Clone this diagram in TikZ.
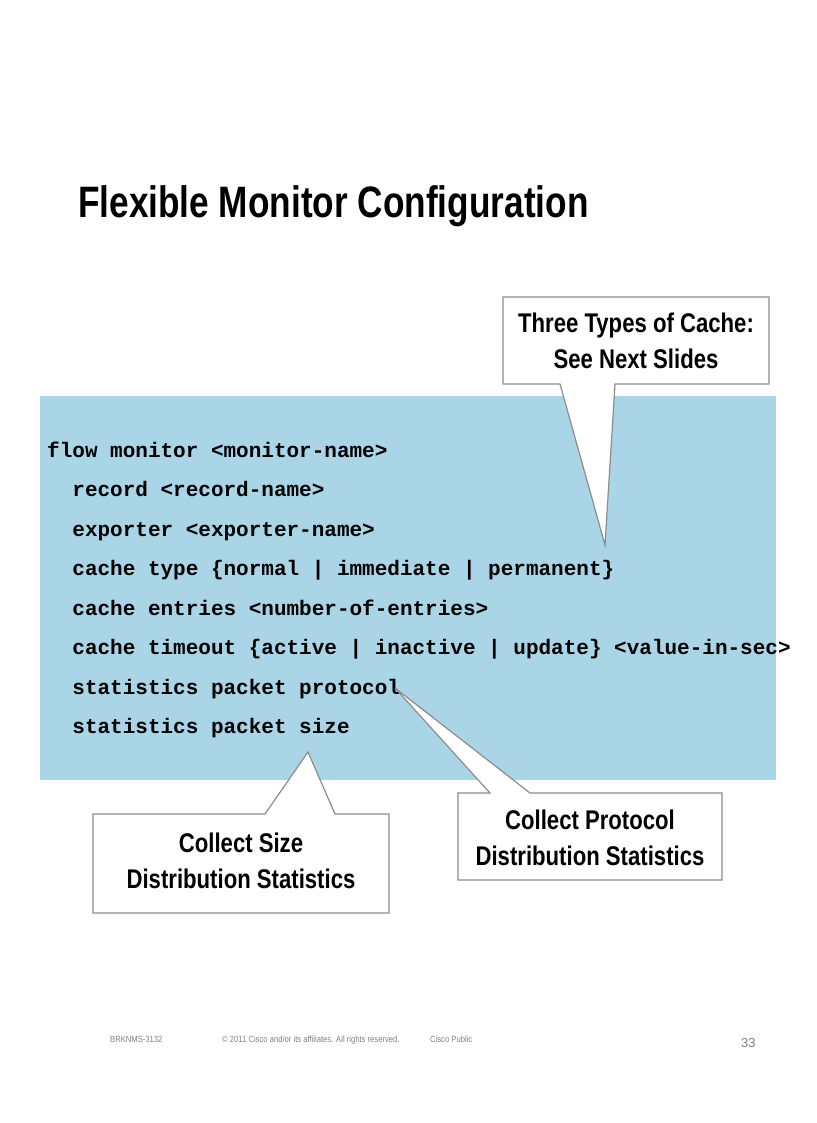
\documentclass[tikz,border=0pt]{standalone}
\usepackage{fontspec}
\setmainfont{Liberation Sans}
\newfontfamily\codefont{Liberation Mono}
\definecolor{bluebg}{HTML}{A9D5E7}
\definecolor{callbd}{HTML}{8C8C8C}
\tikzset{
  call/.style={draw=callbd,line width=1.2pt,fill=white},
  calltext/.style={font=\bfseries\fontsize{27}{36}\selectfont,align=center,xscale=0.82,transform shape},
  code/.style={anchor=base west,inner sep=0pt,font=\codefont\bfseries\fontsize{21}{24}\selectfont},
  foot/.style={anchor=base west,inner sep=0pt,text=gray,font=\fontsize{9}{10}\selectfont,xscale=0.85,transform shape}
}
\begin{document}
\begin{tikzpicture}[x=1pt,y=-1pt]
\useasboundingbox (0,0) rectangle (816,1123);
\node[anchor=base west,inner sep=0pt,font=\bfseries\fontsize{44}{50}\selectfont,xscale=0.8,transform shape] (title) at (78,218) {Flexible Monitor Configuration};
\fill[bluebg] (40,396) rectangle (776,780);
\foreach \t [count=\i from 0] in {flow monitor <monitor-name>,
  \ \ record <record-name>,
  \ \ exporter <exporter-name>,
  \ \ cache type \{normal | immediate | permanent\},
  \ \ cache entries <number-of-entries>,
  \ \ cache timeout \{active | inactive | update\} <value-in-sec>,
  \ \ statistics packet protocol,
  \ \ statistics packet size}
  \node[code] (c\i) at (47,{457+39.5*\i}) {\t};
% callout 1
\draw[call] (503,297) -- (769,297) -- (769,384) -- (615,384) -- (605,545) -- (560,384) -- (503,384) -- cycle;
\node[calltext] (t1) at (636,341) {Three Types of Cache:\\See Next Slides};
% callout 2
\draw[call] (93,814) -- (265,814) -- (308,752) -- (335,814) -- (389,814) -- (389,913) -- (93,913) -- cycle;
\node[calltext] (t2) at (241,861) {Collect Size\\Distribution Statistics};
% callout 3
\draw[call] (458,793) -- (490,793) -- (395,688) -- (530,793) -- (722,793) -- (722,880) -- (458,880) -- cycle;
\node[calltext] (t3) at (590,838) {Collect Protocol\\Distribution Statistics};
% footer
\node[foot] (f1) at (110,1042) {BRKNMS-3132};
\node[foot] (f2) at (222,1042) {\textcopyright\ 2011 Cisco and/or its affiliates. All rights reserved.};
\node[foot] (f3) at (430,1042) {Cisco Public};
\node[anchor=base west,inner sep=0pt,text=gray,font=\fontsize{13}{14}\selectfont] (f4) at (741,1047) {33};
\end{tikzpicture}
\end{document}
